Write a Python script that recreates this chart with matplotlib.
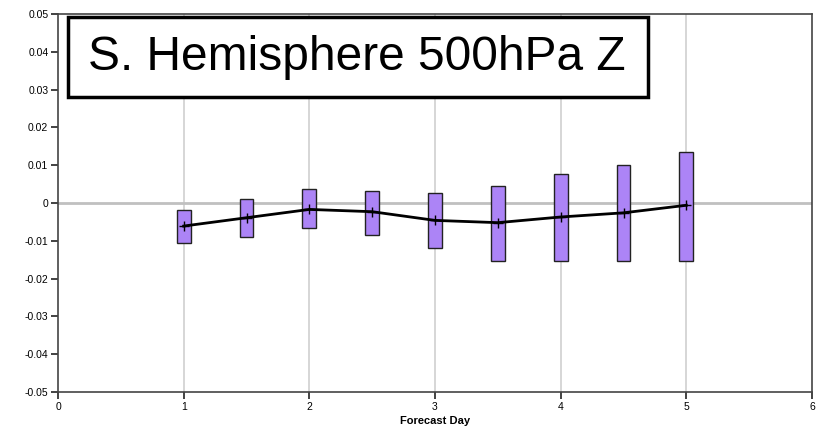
import numpy as np
from matplotlib import pyplot as plt
from matplotlib.patches import Rectangle

# forecast day positions and values
days = [1.0, 1.5, 2.0, 2.5, 3.0, 3.5, 4.0, 4.5, 5.0]
mean = [-0.0061, -0.0039, -0.0017, -0.0023, -0.0046, -0.0052, -0.0037, -0.0026, -0.0006]
low = [-0.0105, -0.0090, -0.0065, -0.0085, -0.0120, -0.0153, -0.0153, -0.0153, -0.0153]
high = [-0.0019, 0.0010, 0.0037, 0.0033, 0.0026, 0.0046, 0.0078, 0.0101, 0.0136]

xticks = [0, 1, 2, 3, 4, 5, 6]
yticks = [-0.05, -0.04, -0.03, -0.02, -0.01, 0, 0.01, 0.02, 0.03, 0.04, 0.05]
ylabels = ['-0.05', '-0.04', '-0.03', '-0.02', '-0.01', '0', '0.01', '0.02', '0.03', '0.04', '0.05']
title = 'S. Hemisphere 500hPa Z'

plt.rcParams['font.family'] = ['Liberation Sans', 'DejaVu Sans']

W, H = 823, 430
fig = plt.figure(figsize=(W / 100, H / 100), dpi=100)
ax = fig.add_axes([58 / W, 1 - 392 / H, (812 - 58) / W, (392 - 14) / H])

ax.set_xlim(0, 6)
ax.set_ylim(-0.05, 0.05)

# grid: vertical lines at each day, single zero line
for d in xticks[1:-1]:
    ax.axvline(d, color='#d0d0d0', lw=1.2, zorder=0)
ax.axhline(0, color='#c0c0c0', lw=2, zorder=0)

# range bars
lo = np.array(low)
hi = np.array(high)
ax.bar(days, hi - lo, bottom=lo, width=0.11, color='#ac84f6',
       edgecolor='#222222', linewidth=1, zorder=2)

# mean line
ax.plot(days, mean, color='black', lw=2, marker='+', ms=7, mew=1, zorder=3)

ax.set_xticks(xticks)
ax.set_xticklabels([str(t) for t in xticks])
ax.set_yticks(yticks)
ax.set_yticklabels(ylabels)
ax.tick_params(direction='out', length=5, width=1.2, labelsize=7.5, pad=2, color='#222222')
for s in ax.spines.values():
    s.set_color('#444444')
    s.set_linewidth(1.2)
ax.set_xlabel('Forecast Day', fontsize=8, fontweight='bold', labelpad=3)

# boxed title
fig.patches.append(Rectangle((68 / W, 1 - 97 / H), (648 - 68) / W, (97 - 17) / H,
                             transform=fig.transFigure, fill=True, facecolor='white',
                             edgecolor='black', lw=2.5, zorder=5))
fig.text(357 / W, 1 - 58 / H, title, fontsize=34.5, ha='center', va='center', zorder=6)

fig.savefig('out.png', dpi=100)
